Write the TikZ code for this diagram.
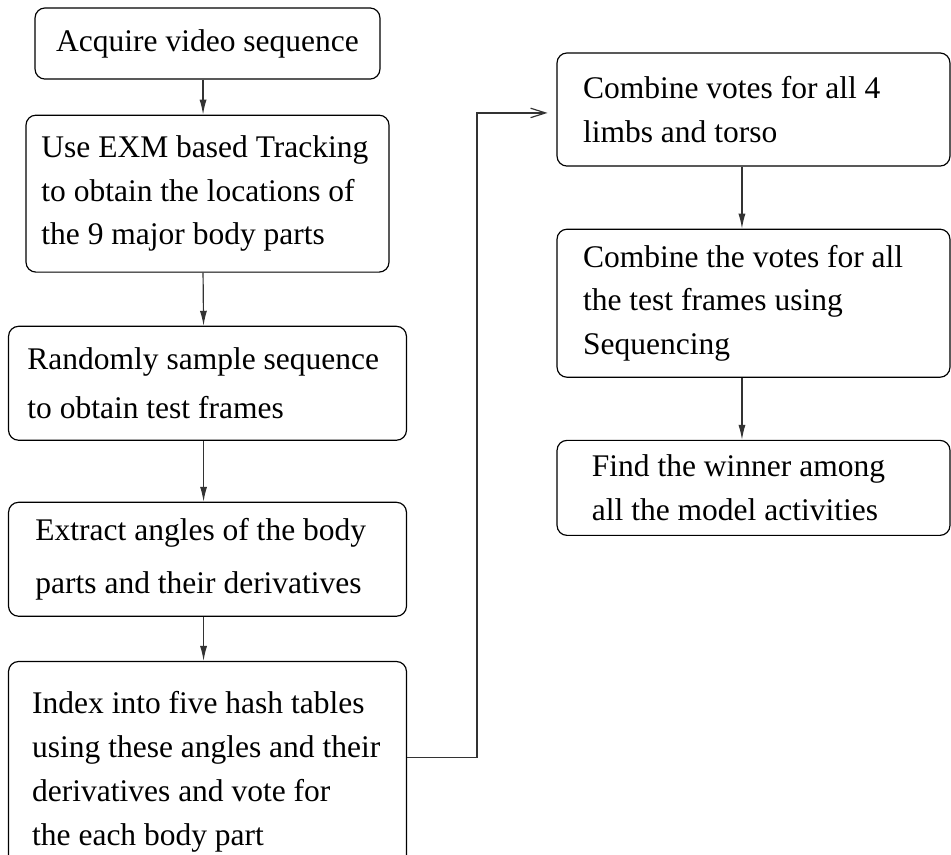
\documentclass[tikz,border=0pt]{standalone}
\usepackage{fontspec}
\setmainfont{Liberation Serif}
\usetikzlibrary{arrows.meta,positioning}

\begin{document}
\begin{tikzpicture}[x=0.381pt,y=-0.381pt,
  stage/.style={draw,rounded corners=3.8pt,line width=0.45pt,align=flush left,inner sep=0pt,
    font=\fontsize{12}{16.5}\selectfont},
  flow/.style={-{Latex[length=5.7pt,width=2.7pt]},draw=black!80,line width=0.45pt},
  back/.style={-{Straight Barb[length=5.7pt,width=3.6pt]},draw=black!80,line width=0.45pt,
    shorten >=3.4pt}]
  \useasboundingbox (0,0) rectangle (951,854);
  \clip (0,0) rectangle (951,854);

  % left column
  \node[stage,align=center,minimum width=131.4pt,minimum height=27.1pt] (acquire) at (207.5,43.5)
    {Acquire video sequence};
  \node[stage,minimum width=138.3pt,minimum height=59.8pt,text width=126.5pt,below=13.3pt of acquire] (track)
    {Use EXM based Tracking\\to obtain the locations of\\the 9 major body parts};
  \node[stage,minimum width=151.6pt,minimum height=43.4pt,text width=137.2pt,below=20.2pt of track] (sample)
    {Randomly sample sequence\\[2.5pt]to obtain test frames};
  \node[stage,minimum width=151.6pt,minimum height=43.4pt,text width=131.1pt,below=23.2pt of sample] (extract)
    {Extract angles of the body\\[3.7pt]parts and their derivatives};
  \node[stage,minimum width=151.6pt,minimum height=83.8pt,text width=133.6pt,below=16.8pt of extract] (index)
    {Index into five hash tables\\[0.3pt]using these angles and their\\[0.3pt]derivatives and vote for\\[0.3pt]the each body part};

  % right column
  \node[stage,minimum width=149.7pt,minimum height=43.1pt,text width=129.9pt] (combine) at (753.5,109.5)
    {Combine votes for all 4\\limbs and torso};
  \node[stage,minimum width=149.7pt,minimum height=56.4pt,text width=129.9pt,below=23.6pt of combine] (frames)
    {Combine the votes for all\\the test frames using\\Sequencing};
  \node[stage,minimum width=149.7pt,minimum height=36.2pt,text width=123.1pt,below=23.6pt of frames] (winner)
    {Find the winner among\\all the model activities};

  \coordinate (bend) at (477,400);

  \draw[flow] ([xshift=-1.7pt]acquire.south) -- ([xshift=-1.7pt]track.north);
  \draw[flow] ([xshift=-1.7pt]track.south) -- ([xshift=-1.5pt]sample.north);
  \draw[flow] ([xshift=-1.5pt]sample.south) -- ([xshift=-1.5pt]extract.north);
  \draw[flow] ([xshift=-1.5pt]extract.south) -- ([xshift=-1.5pt]index.north);
  \draw[back] ([yshift=5.3pt]index.east) -| (bend) |- ([yshift=-1.3pt]combine.west);
  \draw[flow] ([xshift=-4.4pt]combine.south) -- ([xshift=-4.4pt]frames.north);
  \draw[flow] ([xshift=-4.4pt]frames.south) -- ([xshift=-4.4pt]winner.north);
\end{tikzpicture}
\end{document}
